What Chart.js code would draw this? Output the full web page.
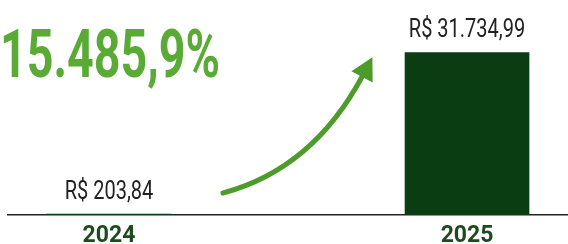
<!DOCTYPE html>
<html>
<head>
<meta charset="utf-8">
<script src="https://cdn.jsdelivr.net/npm/chart.js@4/dist/chart.umd.min.js"></script>
<style>
    html, body { margin: 0; padding: 0; background: #fff; }
    #wrap { width: 568px; height: 244px; }
</style>
</head>
<body>
<div id="wrap"><canvas id="growth-chart" width="568" height="244"></canvas></div>
<script>
const years = ['2024', '2025'];
const revenue = [203.84, 31734.99];
const growthLabel = '15.485,9%';

const fontFamily = 'Roboto, "Liberation Sans", sans-serif';

function formatBRL(v) {
    const parts = v.toFixed(2).split('.');
    const intPart = parts[0].replace(/\B(?=(\d{3})+(?!\d))/g, '.');
    return 'R$ ' + intPart + ',' + parts[1];
}

// condensed look: squeeze text horizontally around its anchor
function drawNarrow(ctx, text, x, y, squeeze) {
    ctx.save();
    ctx.translate(x, y);
    ctx.scale(squeeze, 1);
    ctx.fillText(text, 0, 0);
    ctx.restore();
}

// value labels, the big percentage and the arrow
const decorations = {
    id: 'decorations',
    afterDatasetsDraw(chart) {
        const ctx = chart.ctx;
        const ca = chart.chartArea;
        const meta = chart.getDatasetMeta(0);

        ctx.save();
        ctx.fillStyle = '#222';
        ctx.font = '25px ' + fontFamily;
        ctx.textAlign = 'center';
        ctx.textBaseline = 'bottom';
        meta.data.forEach((bar, i) => {
            drawNarrow(ctx, formatBRL(revenue[i]), bar.x, bar.y - 9, 0.8);
        });
        ctx.restore();

        // big growth figure
        ctx.save();
        ctx.font = 'bold 66px ' + fontFamily;
        ctx.textAlign = 'left';
        ctx.textBaseline = 'alphabetic';
        const w = ctx.measureText(growthLabel).width;
        const grad = ctx.createLinearGradient(0, 30, 0, 78);
        grad.addColorStop(0, '#5aab35');
        grad.addColorStop(1, '#3f8c25');
        ctx.fillStyle = grad;
        drawNarrow(ctx, growthLabel, ca.left - 8, ca.top + 77, 220 / w);
        ctx.restore();

        // curved arrow
        const p0 = { x: ca.left + 215, y: ca.top + 193 };
        const c = { x: ca.left + 305, y: ca.top + 169 };
        const p2 = { x: ca.left + 355, y: ca.top + 75 };
        ctx.save();
        ctx.strokeStyle = '#4d9b2b';
        ctx.fillStyle = '#4d9b2b';
        ctx.lineWidth = 5;
        ctx.lineCap = 'round';
        ctx.beginPath();
        ctx.moveTo(p0.x, p0.y);
        ctx.quadraticCurveTo(c.x, c.y, p2.x, p2.y);
        ctx.stroke();
        const dx = p2.x - c.x, dy = p2.y - c.y;
        const len = Math.hypot(dx, dy);
        const ux = dx / len, uy = dy / len;
        const tip = { x: p2.x + ux * 20, y: p2.y + uy * 20 };
        const back = { x: p2.x - ux * 2, y: p2.y - uy * 2 };
        ctx.beginPath();
        ctx.moveTo(tip.x, tip.y);
        ctx.lineTo(back.x - uy * 12, back.y + ux * 12);
        ctx.lineTo(back.x + uy * 12, back.y - ux * 12);
        ctx.closePath();
        ctx.fill();
        ctx.restore();
    }
};

const chartCanvas = document.getElementById('growth-chart');

new Chart(chartCanvas, {
    type: 'bar',
    data: {
        datasets: [{
            data: years.map((y, i) => ({ x: Number(y), y: revenue[i] })),
            backgroundColor: '#0b3d13',
            borderWidth: 0,
            barThickness: 124
        }]
    },
    options: {
        responsive: false,
        animation: false,
        layout: { padding: { left: 8, right: 0, top: 0, bottom: 0 } },
        plugins: {
            legend: { display: false },
            tooltip: { enabled: false }
        },
        scales: {
            x: {
                type: 'linear',
                offset: false,
                z: 1,
                min: 2023.718,
                max: 2025.282,
                grid: { display: false, drawTicks: false },
                border: { display: true, color: '#222', width: 1.5 },
                ticks: {
                    stepSize: 1,
                    includeBounds: false,
                    maxRotation: 0,
                    padding: 7,
                    color: '#1d4a1f',
                    font: { family: fontFamily, size: 23, weight: 'bold' },
                    callback: (v) => years.includes(String(v)) ? String(v) : ''
                },
                afterFit: (scale) => { scale.height = 29; }
            },
            y: {
                display: false,
                min: 0,
                max: 42000
            }
        }
    },
    plugins: [decorations]
});
</script>
</body>
</html>
